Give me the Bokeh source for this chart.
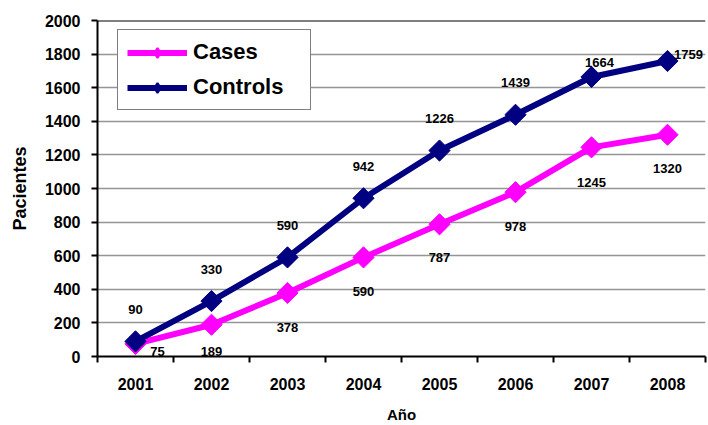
import math
from bokeh.plotting import figure
from bokeh.models import (ColumnDataSource, FactorRange, Range1d, LinearAxis, CategoricalAxis,
                          FixedTicker, LabelSet, Legend, LegendItem, Span)
from bokeh.core.properties import value
from bokeh.embed import file_html
from bokeh.resources import INLINE

years = ["2001", "2002", "2003", "2004", "2005", "2006", "2007", "2008"]
cases = [75, 189, 378, 590, 787, 978, 1245, 1320]
controls = [90, 330, 590, 942, 1226, 1439, 1664, 1759]
y_ticks = [0, 200, 400, 600, 800, 1000, 1200, 1400, 1600, 1800, 2000]

# label offsets (screen px) for the data labels
cases_dx = [22, 0, 0, 0, 0, 0, 0, 0]
cases_dy = [-8, -27, -35, -34, -33, -34, -35, -34]
ctrl_dx = [0, 0, 0, 0, 0, 0, 8, 21]
ctrl_dy = [32, 32, 32, 32, 32, 32, 14, 6]

FONT = "Liberation Sans"
MAGENTA = "#FF00FF"
NAVY = "#000080"

p = figure(width=708, height=425, output_backend="svg", toolbar_location=None,
           x_range=FactorRange(*years, range_padding=0), y_range=Range1d(0, 2000),
           x_axis_location=None, min_border_left=97, min_border_right=3,
           min_border_top=20, min_border_bottom=66)
p.outline_line_color = None
p.background_fill_color = "white"
p.border_fill_color = "white"

# y axis
ya = p.yaxis[0]
ya.ticker = FixedTicker(ticks=y_ticks)
ya.axis_line_color = "black"
ya.axis_line_width = 2
ya.major_tick_line_color = "black"
ya.major_tick_line_width = 2
ya.major_tick_out = 6
ya.major_tick_in = 0
ya.minor_tick_line_color = None
ya.major_label_standoff = 11
ya.major_label_text_font = FONT
ya.major_label_text_font_style = "bold"
ya.major_label_text_font_size = "16px"
ya.major_label_text_color = "black"
ya.axis_label = "Pacientes"
ya.axis_label_text_font = FONT
ya.axis_label_text_font_style = "bold"
ya.axis_label_text_font_size = "18px"
ya.axis_label_text_color = "black"
ya.axis_label_standoff = 12

p.ygrid.grid_line_color = "#959595"
p.ygrid.grid_line_width = 1.5
for g in p.xgrid:
    g.visible = False

# bottom axis with ticks on the category boundaries (synthetic coordinates)
tick_axis = LinearAxis(ticker=FixedTicker(ticks=list(range(len(years) + 1))))
tick_axis.axis_line_color = "black"
tick_axis.axis_line_width = 2
tick_axis.major_tick_line_color = "black"
tick_axis.major_tick_line_width = 2
tick_axis.major_tick_out = 6
tick_axis.major_tick_in = 0
tick_axis.minor_tick_line_color = None
tick_axis.major_label_text_font_size = "1px"
tick_axis.major_label_text_color = None
tick_axis.major_label_standoff = 0
p.add_layout(tick_axis, "below")

cat_axis = CategoricalAxis()
cat_axis.axis_line_color = None
cat_axis.major_tick_line_color = None
cat_axis.minor_tick_line_color = None
cat_axis.major_label_standoff = 9
cat_axis.major_label_text_font = FONT
cat_axis.major_label_text_font_style = "bold"
cat_axis.major_label_text_font_size = "16px"
cat_axis.major_label_text_color = "black"
cat_axis.axis_label = "Año"
cat_axis.axis_label_text_font = FONT
cat_axis.axis_label_text_font_style = "bold"
cat_axis.axis_label_text_font_size = "15px"
cat_axis.axis_label_text_color = "black"
cat_axis.axis_label_standoff = 13
p.add_layout(cat_axis, "below")

p.add_layout(Span(location=2000, dimension="width", line_color="black", line_width=2))

src_cases = ColumnDataSource(dict(x=years, y=cases, t=[str(v) for v in cases], dx=cases_dx, dy=cases_dy))
src_ctrl = ColumnDataSource(dict(x=years, y=controls, t=[str(v) for v in controls], dx=ctrl_dx, dy=ctrl_dy))

l1 = p.line("x", "y", source=src_cases, line_color=MAGENTA, line_width=6)
p.scatter("x", "y", source=src_cases, marker="square", angle=math.pi / 4, size=15,
          fill_color=MAGENTA, line_color=MAGENTA)
l2 = p.line("x", "y", source=src_ctrl, line_color=NAVY, line_width=6)
p.scatter("x", "y", source=src_ctrl, marker="square", angle=math.pi / 4, size=15,
          fill_color=NAVY, line_color=NAVY)

# diamond markers used for the legend swatches (zero size on the plot, hidden under the markers)
k1 = p.scatter("x", "y", source=src_cases, marker="diamond", size=0,
               fill_color=MAGENTA, line_color=MAGENTA, line_width=2)
k2 = p.scatter("x", "y", source=src_ctrl, marker="diamond", size=0,
               fill_color=NAVY, line_color=NAVY, line_width=2)

for src in (src_cases, src_ctrl):
    p.add_layout(LabelSet(x="x", y="y", text="t", source=src, x_offset="dx", y_offset="dy",
                          text_align="center", text_baseline="middle", text_font=value(FONT),
                          text_font_style="bold", text_font_size="13px", text_color="black"))

legend = Legend(items=[LegendItem(label="Cases", renderers=[l1, k1]),
                       LegendItem(label="Controls", renderers=[l2, k2])],
                location=(20, 246), padding=9, spacing=9, glyph_width=60, glyph_height=25,
                label_height=25, label_width=108, label_standoff=6,
                label_text_font=FONT, label_text_font_style="bold", label_text_font_size="22px",
                label_text_color="black", border_line_color="black", border_line_width=1.5,
                background_fill_color="white", background_fill_alpha=1.0)
p.add_layout(legend, "center")

open("out.html", "w").write(file_html(p, INLINE))
